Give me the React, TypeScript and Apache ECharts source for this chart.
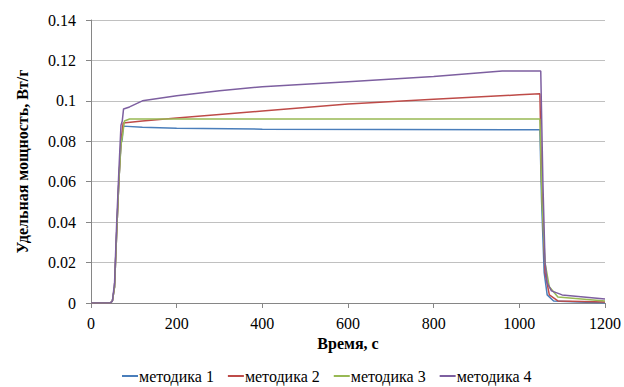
import React, { useEffect, useRef } from "react";
import * as echarts from "echarts";

const seriesNames = ["методика 1", "методика 2", "методика 3", "методика 4"];
const colors = ["#4a7ebb", "#be4b48", "#98b954", "#7d5fa0"];

const xTicks = { min: 0, max: 1200, interval: 200 };
const yTicks = { min: 0, max: 0.14, interval: 0.02 };

const m1: [number, number][] = [
  [0, 0], [45, 0], [50, 0.001], [55, 0.008], [60, 0.035], [65, 0.06], [70, 0.079], [73, 0.081],
  [75, 0.0875], [120, 0.087], [200, 0.0865], [400, 0.086], [700, 0.0858], [1048, 0.0857],
  [1052, 0.05], [1058, 0.015], [1065, 0.004], [1080, 0.001], [1200, 0],
];
const m2: [number, number][] = [
  [0, 0], [45, 0], [50, 0.001], [55, 0.008], [60, 0.035], [65, 0.06], [70, 0.08], [75, 0.089],
  [120, 0.09], [200, 0.0915], [400, 0.095], [600, 0.0985], [800, 0.1008], [1000, 0.103],
  [1048, 0.1035], [1052, 0.06], [1060, 0.015], [1070, 0.004], [1090, 0.001], [1200, 0.0005],
];
const m3: [number, number][] = [
  [0, 0], [45, 0], [50, 0.001], [55, 0.008], [60, 0.035], [65, 0.06], [70, 0.078], [75, 0.085],
  [78, 0.09], [90, 0.091], [400, 0.091], [800, 0.091], [1048, 0.091], [1053, 0.05],
  [1060, 0.02], [1070, 0.008], [1090, 0.003], [1200, 0.001],
];
const m4: [number, number][] = [
  [0, 0], [45, 0], [50, 0.001], [55, 0.01], [60, 0.04], [65, 0.065], [70, 0.088], [73, 0.09],
  [76, 0.096], [90, 0.097], [120, 0.1], [200, 0.1025], [300, 0.105], [400, 0.107],
  [600, 0.1095], [800, 0.112], [960, 0.1148], [1050, 0.1148], [1055, 0.06], [1060, 0.02],
  [1065, 0.01], [1075, 0.006], [1100, 0.004], [1150, 0.003], [1200, 0.002],
];
const seriesData = [m1, m2, m3, m4];

const FONT = "'Liberation Serif', 'Times New Roman', serif";

export default function App() {
  const ref = useRef<HTMLDivElement>(null);
  useEffect(() => {
    if (!ref.current) return;
    const chart = echarts.init(ref.current, undefined, { renderer: "svg" });
    chart.setOption({
      animation: false,
      backgroundColor: "#ffffff",
      textStyle: { fontFamily: FONT, color: "#000" },
      grid: { left: 91, right: 18, top: 20, bottom: 84 },
      legend: {
        left: 122,
        top: 368,
        padding: 0,
        data: seriesNames,
        icon: "rect",
        itemWidth: 16,
        itemHeight: 2,
        itemGap: 14,
        textStyle: { fontFamily: FONT, fontSize: 16, color: "#000", padding: [0, 0, 0, -4] },
      },
      xAxis: {
        type: "value",
        min: xTicks.min,
        max: xTicks.max,
        interval: xTicks.interval,
        name: "Время, с",
        nameLocation: "middle",
        nameGap: 30,
        nameTextStyle: { fontFamily: FONT, fontSize: 16, fontWeight: "bold", color: "#000" },
        axisLine: { show: true, lineStyle: { color: "#868686" } },
        axisTick: { show: true, length: 5, lineStyle: { color: "#868686" } },
        axisLabel: {
          fontFamily: FONT,
          fontSize: 16,
          color: "#000",
          margin: 12,
          formatter: (v: number) => String(v),
        },
        splitLine: { show: false },
      },
      yAxis: {
        type: "value",
        min: yTicks.min,
        max: yTicks.max,
        interval: yTicks.interval,
        name: "Удельная мощность, Вт/г",
        nameLocation: "middle",
        nameGap: 61,
        nameTextStyle: { fontFamily: FONT, fontSize: 16, fontWeight: "bold", color: "#000" },
        axisLine: { show: true, lineStyle: { color: "#868686" } },
        axisTick: { show: true, length: 5, lineStyle: { color: "#868686" } },
        axisLabel: {
          fontFamily: FONT,
          fontSize: 16,
          color: "#000",
          margin: 15,
          formatter: (v: number) => String(Math.round(v * 100) / 100),
        },
        splitLine: { show: true, lineStyle: { color: "#c0c0c0" } },
      },
      series: seriesNames.map((n, i) => ({
        name: n,
        type: "line",
        data: seriesData[i],
        showSymbol: false,
        symbol: "none",
        lineStyle: { color: colors[i], width: 1.5 },
        itemStyle: { color: colors[i] },
        z: 2 + i,
      })),
    });
    return () => chart.dispose();
  }, []);
  return (
    <div
      ref={ref}
      style={{ position: "fixed", left: 0, top: 0, width: 624, height: 387 }}
    />
  );
}
